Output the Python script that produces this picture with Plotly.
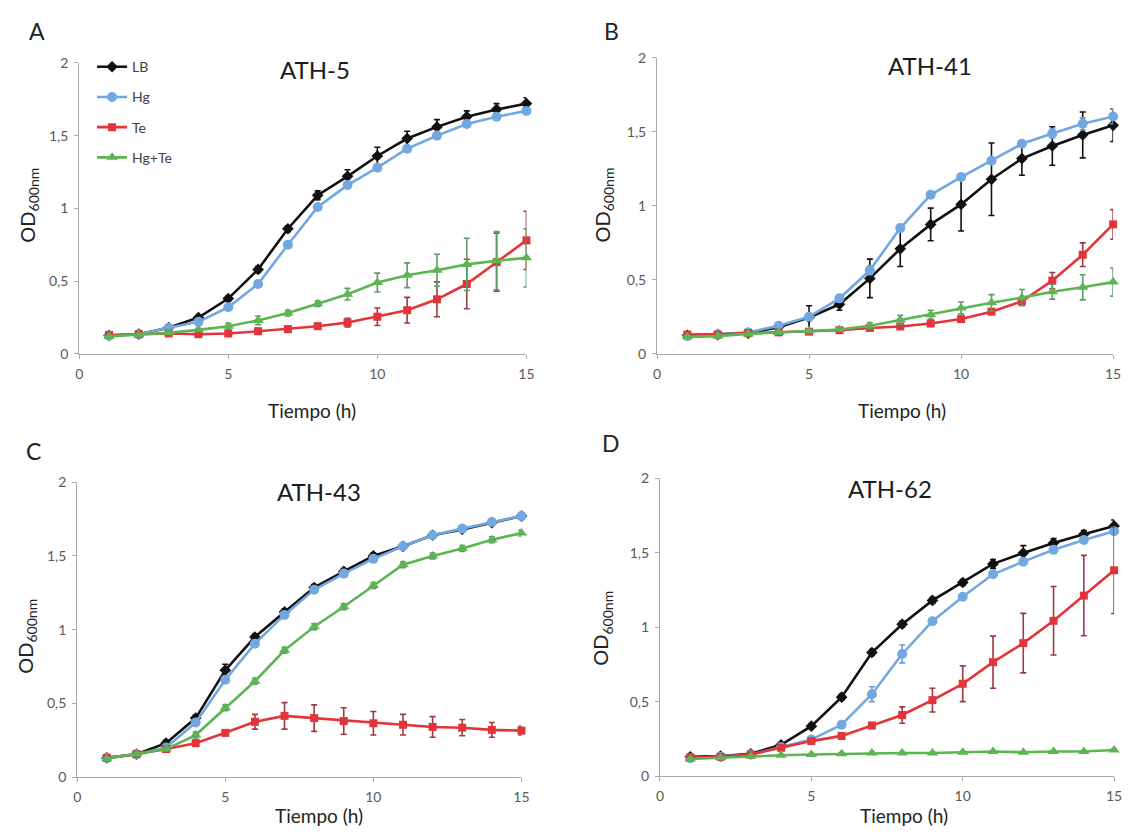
import plotly.graph_objects as go

# Sampling times (h)
hours = list(range(1, 16))

# ---- ATH-5 ----
a_lb = [0.126, 0.135, 0.18, 0.25, 0.38, 0.58, 0.86, 1.09, 1.22, 1.36, 1.48, 1.56, 1.63, 1.68, 1.72]
a_lb_err = [0.005, 0.005, 0.01, 0.01, 0.015, 0.02, 0.02, 0.03, 0.045, 0.06, 0.05, 0.05, 0.04, 0.04, 0.04]
a_hg = [0.125, 0.135, 0.18, 0.22, 0.32, 0.48, 0.75, 1.01, 1.16, 1.28, 1.41, 1.50, 1.58, 1.63, 1.67]
a_hg_err = [0.005, 0.005, 0.01, 0.01, 0.01, 0.015, 0.02, 0.02, 0.02, 0.02, 0.02, 0.02, 0.02, 0.02, 0.02]
a_te = [0.13, 0.135, 0.14, 0.135, 0.14, 0.155, 0.17, 0.19, 0.215, 0.255, 0.30, 0.375, 0.48, 0.63, 0.78]
a_te_err = [0.005, 0.005, 0.005, 0.01, 0.01, 0.02, 0.02, 0.02, 0.03, 0.06, 0.088, 0.12, 0.17, 0.2, 0.2]
a_hgte = [0.12, 0.13, 0.145, 0.165, 0.19, 0.23, 0.28, 0.345, 0.41, 0.49, 0.54, 0.575, 0.615, 0.64, 0.66]
a_hgte_err = [0.005, 0.005, 0.01, 0.01, 0.02, 0.03, 0.02, 0.02, 0.04, 0.065, 0.085, 0.11, 0.18, 0.2, 0.2]

# ---- ATH-41 ----
b_lb = [0.125, 0.13, 0.14, 0.18, 0.245, 0.335, 0.51, 0.71, 0.875, 1.01, 1.18, 1.32, 1.405, 1.48, 1.545]
b_lb_err = [0.005, 0.005, 0.01, 0.02, 0.08, 0.04, 0.13, 0.12, 0.11, 0.18, 0.245, 0.113, 0.13, 0.155, 0.11]
b_hg = [0.12, 0.13, 0.145, 0.19, 0.25, 0.375, 0.565, 0.85, 1.075, 1.195, 1.305, 1.42, 1.49, 1.555, 1.605]
b_hg_err = [0.005, 0.005, 0.01, 0.01, 0.02, 0.02, 0.03, 0.02, 0.02, 0.02, 0.02, 0.02, 0.03, 0.04, 0.05]
b_te = [0.13, 0.13, 0.14, 0.145, 0.15, 0.16, 0.175, 0.185, 0.205, 0.235, 0.285, 0.355, 0.495, 0.67, 0.875]
b_te_err = [0.005, 0.005, 0.005, 0.005, 0.005, 0.01, 0.01, 0.01, 0.01, 0.01, 0.015, 0.02, 0.055, 0.08, 0.1]
b_hgte = [0.115, 0.12, 0.135, 0.145, 0.155, 0.165, 0.19, 0.23, 0.265, 0.31, 0.345, 0.38, 0.42, 0.45, 0.485]
b_hgte_err = [0.005, 0.005, 0.01, 0.01, 0.01, 0.01, 0.02, 0.03, 0.03, 0.04, 0.055, 0.055, 0.05, 0.085, 0.095]

# ---- ATH-43 ----
c_lb = [0.13, 0.155, 0.23, 0.40, 0.725, 0.95, 1.12, 1.285, 1.395, 1.50, 1.565, 1.64, 1.68, 1.725, 1.77]
c_lb_err = [0.005, 0.01, 0.02, 0.02, 0.04, 0.02, 0.02, 0.02, 0.02, 0.02, 0.02, 0.01, 0.01, 0.01, 0.01]
c_hg = [0.13, 0.155, 0.2, 0.37, 0.66, 0.905, 1.10, 1.27, 1.38, 1.48, 1.565, 1.64, 1.685, 1.73, 1.77]
c_hg_err = [0.005, 0.005, 0.01, 0.02, 0.02, 0.02, 0.02, 0.02, 0.02, 0.02, 0.01, 0.01, 0.01, 0.01, 0.01]
c_te = [0.13, 0.155, 0.19, 0.23, 0.30, 0.375, 0.415, 0.40, 0.38, 0.365, 0.355, 0.34, 0.335, 0.32, 0.315]
c_te_err = [0.005, 0.01, 0.01, 0.02, 0.02, 0.05, 0.09, 0.09, 0.09, 0.08, 0.07, 0.07, 0.055, 0.05, 0.03]
c_hgte = [0.125, 0.155, 0.19, 0.285, 0.47, 0.65, 0.86, 1.02, 1.155, 1.30, 1.44, 1.50, 1.55, 1.61, 1.655]
c_hgte_err = [0.005, 0.005, 0.01, 0.02, 0.02, 0.02, 0.02, 0.02, 0.02, 0.02, 0.02, 0.02, 0.02, 0.02, 0.02]

# ---- ATH-62 ----
d_lb = [0.13, 0.135, 0.15, 0.21, 0.335, 0.53, 0.83, 1.02, 1.18, 1.30, 1.425, 1.498, 1.565, 1.624, 1.68]
d_lb_err = [0.005, 0.005, 0.01, 0.01, 0.015, 0.02, 0.02, 0.02, 0.02, 0.02, 0.03, 0.05, 0.03, 0.025, 0.04]
d_hg = [0.12, 0.13, 0.145, 0.195, 0.245, 0.345, 0.55, 0.82, 1.04, 1.205, 1.355, 1.44, 1.52, 1.586, 1.645]
d_hg_err = [0.005, 0.005, 0.005, 0.01, 0.01, 0.015, 0.05, 0.06, 0.02, 0.02, 0.02, 0.02, 0.02, 0.02, 0.02]
d_te = [0.125, 0.13, 0.145, 0.19, 0.235, 0.27, 0.34, 0.41, 0.51, 0.62, 0.765, 0.893, 1.043, 1.212, 1.382]
d_te_err = [0.005, 0.005, 0.005, 0.01, 0.01, 0.02, 0.02, 0.055, 0.08, 0.12, 0.175, 0.2, 0.23, 0.27, 0.29]
d_hgte = [0.115, 0.125, 0.135, 0.14, 0.145, 0.15, 0.155, 0.155, 0.155, 0.16, 0.165, 0.16, 0.165, 0.165, 0.175]
d_hgte_err = [0.005, 0.005, 0.005, 0.005, 0.005, 0.005, 0.005, 0.005, 0.005, 0.005, 0.005, 0.005, 0.005, 0.005, 0.008]

series_names = ["LB", "Hg", "Te", "Hg+Te"]
panel_titles = ["ATH-5", "ATH-41", "ATH-43", "ATH-62"]
panel_letters = ["A", "B", "C", "D"]
x_ticks = [0, 5, 10, 15]
y_ticks = [0, 0.5, 1, 1.5, 2]

panels = [
    [(a_lb, a_lb_err), (a_hg, a_hg_err), (a_te, a_te_err), (a_hgte, a_hgte_err)],
    [(b_lb, b_lb_err), (b_hg, b_hg_err), (b_te, b_te_err), (b_hgte, b_hgte_err)],
    [(c_lb, c_lb_err), (c_hg, c_hg_err), (c_te, c_te_err), (c_hgte, c_hgte_err)],
    [(d_lb, d_lb_err), (d_hg, d_hg_err), (d_te, d_te_err), (d_hgte, d_hgte_err)],
]

W, H = 1132, 837
FONT = "Lato, 'Open Sans', sans-serif"

line_colors = ["#111111", "#72a7e0", "#e2343a", "#5cb552"]
err_colors = ["#111111", "#6f9ccc", "#9c3a44", "#5c9a66"]
symbols = ["diamond", "circle", "square", "triangle-up"]
msizes = [9, 10, 8, 10]

# plot-area pixel boxes: (left, right, top, bottom)
boxes = [(76, 528, 55, 352), (660, 1121, 50, 352), (74, 523, 483, 784), (663, 1122, 479, 783)]
letter_pos = [(33, 22), (614, 22), (30, 451), (613, 443)]
title_pos = [(314, 62), (936, 58), (318, 492), (895, 489)]
ytitle_pos = [(25, 200), (606, 200), (22, 640), (604, 632)]
xtitle_pos = [(311, 410), (908, 410), (318, 823), (910, 823)]


def px(x):
    return x / W


def py(y):
    return 1 - y / H


fig = go.Figure()
annotations = []
layout_axes = {}


def label(text, pos, size, angle=0, color="#222222"):
    return dict(text=text, x=px(pos[0]), y=py(pos[1]), xref="paper", yref="paper",
                xanchor="center", yanchor="middle", showarrow=False, textangle=angle,
                font=dict(family=FONT, size=size, color=color))


for p, series in enumerate(panels):
    sfx = "" if p == 0 else str(p + 1)
    for s, (vals, errs) in enumerate(series):
        fig.add_trace(go.Scatter(
            x=hours, y=vals,
            xaxis="x" + sfx, yaxis="y" + sfx,
            mode="lines+markers",
            name=series_names[s],
            legendgroup=series_names[s],
            showlegend=(p == 0),
            line=dict(color=line_colors[s], width=2.6),
            marker=dict(symbol=symbols[s], size=msizes[s], color=line_colors[s]),
            error_y=dict(type="data", array=errs, visible=True,
                         color=err_colors[s], thickness=1.6, width=3),
            cliponaxis=False,
        ))

    l, r, t, b = boxes[p]
    axis_style = dict(showgrid=False, zeroline=False, showline=True,
                      linecolor="#a9a9a9", linewidth=1,
                      ticks="outside", ticklen=4, tickcolor="#a9a9a9",
                      ticklabelstandoff=3,
                      tickfont=dict(family=FONT, size=14, color="#595959"))
    layout_axes["xaxis" + sfx] = dict(
        domain=[px(l), px(r)], anchor="y" + sfx, range=[0, 15],
        tickvals=x_ticks, **axis_style)
    layout_axes["yaxis" + sfx] = dict(
        domain=[py(b), py(t)], anchor="x" + sfx, range=[0, 2],
        tickvals=y_ticks, **axis_style)

    annotations.append(label(panel_letters[p], letter_pos[p], 23))
    annotations.append(label(panel_titles[p], title_pos[p], 24, color="#1a1a1a"))
    annotations.append(label("OD<sub>600nm</sub>", ytitle_pos[p], 20, angle=-90))
    annotations.append(label("Tiempo (h)", xtitle_pos[p], 19))

fig.update_layout(
    width=W, height=H,
    margin=dict(l=0, r=0, t=0, b=0),
    paper_bgcolor="white", plot_bgcolor="white",
    separators=",.",
    showlegend=True,
    legend=dict(x=px(89), y=py(43), xanchor="left", yanchor="top",
                bgcolor="rgba(0,0,0,0)", tracegroupgap=9,
                font=dict(family=FONT, size=14, color="#404040")),
    annotations=annotations,
    **layout_axes,
)

fig.write_html("out.html")
